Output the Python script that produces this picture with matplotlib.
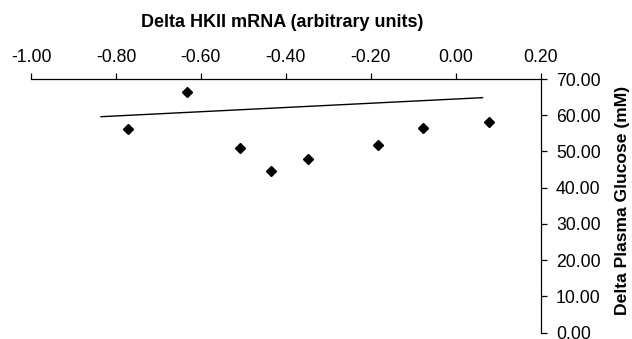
import matplotlib
matplotlib.use("Agg")
import matplotlib.pyplot as plt

plt.rcParams['font.family'] = ['Liberation Sans', 'DejaVu Sans']

# Data
hkii_delta = [-0.771, -0.633, -0.509, -0.435, -0.347, -0.182, -0.078, 0.079]
glucose_delta = [56.2, 66.3, 50.9, 44.6, 47.9, 51.9, 56.6, 58.2]
trend_x = [-0.835, 0.063]
trend_y = [59.6, 64.85]
x_ticks = [-1.0, -0.8, -0.6, -0.4, -0.2, 0.0, 0.2]
y_ticks = [0, 10, 20, 30, 40, 50, 60, 70]

W, H = 632, 339
L, R, T, B = 31, 540.7, 79, 332.7
fig = plt.figure(figsize=(W/100, H/100), dpi=100)
ax = fig.add_axes([L/W, 1 - B/H, (R - L)/W, (B - T)/H])

ax.plot(trend_x, trend_y, color='black', lw=1.0)
ax.plot(hkii_delta, glucose_delta, linestyle='none', marker='D',
        markersize=4.7, color='black')

ax.set_xlim(-1.0, 0.2)
ax.set_ylim(0, 70)
ax.set_xticks(x_ticks)
ax.set_xticklabels([f"{v:.2f}" for v in x_ticks])
ax.set_yticks(y_ticks)
ax.set_yticklabels([f"{v:.2f}" for v in y_ticks])

for s in ['left', 'bottom']:
    ax.spines[s].set_visible(False)
for s in ['top', 'right']:
    ax.spines[s].set_color('black')
    ax.spines[s].set_linewidth(0.9)

ax.xaxis.set_ticks_position('top')
ax.xaxis.set_label_position('top')
ax.yaxis.set_ticks_position('right')
ax.yaxis.set_label_position('right')
ax.tick_params(axis='x', direction='out', length=4, width=0.9, pad=5.5, labelsize=12.7)
ax.tick_params(axis='y', direction='out', length=4, width=0.9, pad=7, labelsize=12.7)

ax.set_xlabel('Delta HKII mRNA (arbitrary units)', fontsize=13, fontweight='bold')
ax.set_ylabel('Delta Plasma Glucose (mM)', fontsize=12.6, fontweight='bold')
ax.xaxis.set_label_coords((282 - L) / (R - L), 1 + (T - 22.5) / (B - T))
ax.xaxis.label.set(ha='center', va='center')
ax.yaxis.set_label_coords((622 - L) / (R - L), 1 - (200 - T) / (B - T))
ax.yaxis.label.set(ha='center', va='center', rotation=90, rotation_mode='anchor')

fig.savefig('out.png', dpi=100)
